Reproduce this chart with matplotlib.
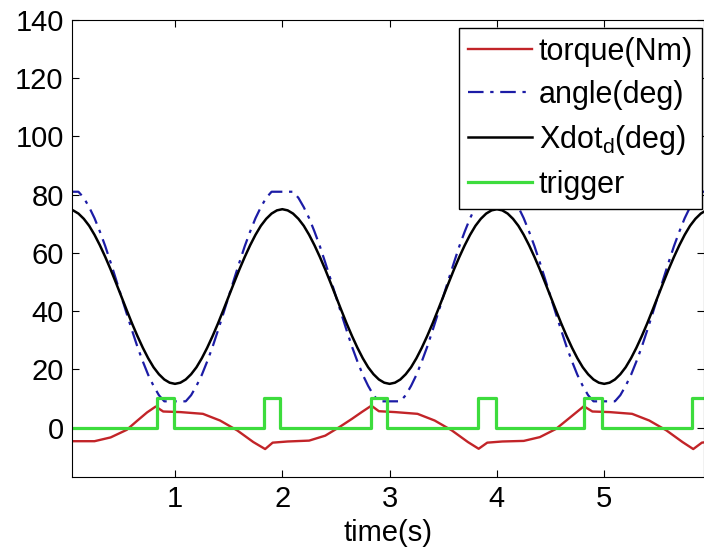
import numpy as np
import matplotlib.pyplot as plt

plt.rcParams['font.family'] = ['Liberation Sans', 'DejaVu Sans']
plt.rcParams['mathtext.default'] = 'regular'

# sample times for the two smooth curves (s), every 0.05 s
t = [round(0.05 * i, 2) for i in range(121)]

# Xdot_d (deg)
xdot = [75, 74.6, 73.5, 71.7, 69.3, 66.2, 62.6, 58.6, 54.3, 49.7, 45, 40.3, 35.7, 31.4, 27.4, 23.8, 20.7, 18.3, 16.5, 15.4,
        15, 15.4, 16.5, 18.3, 20.7, 23.8, 27.4, 31.4, 35.7, 40.3, 45, 49.7, 54.3, 58.6, 62.6, 66.2, 69.3, 71.7, 73.5, 74.6,
        75, 74.6, 73.5, 71.7, 69.3, 66.2, 62.6, 58.6, 54.3, 49.7, 45, 40.3, 35.7, 31.4, 27.4, 23.8, 20.7, 18.3, 16.5, 15.4,
        15, 15.4, 16.5, 18.3, 20.7, 23.8, 27.4, 31.4, 35.7, 40.3, 45, 49.7, 54.3, 58.6, 62.6, 66.2, 69.3, 71.7, 73.5, 74.6,
        75, 74.6, 73.5, 71.7, 69.3, 66.2, 62.6, 58.6, 54.3, 49.7, 45, 40.3, 35.7, 31.4, 27.4, 23.8, 20.7, 18.3, 16.5, 15.4,
        15, 15.4, 16.5, 18.3, 20.7, 23.8, 27.4, 31.4, 35.7, 40.3, 45, 49.7, 54.3, 58.6, 62.6, 66.2, 69.3, 71.7, 73.5, 74.6,
        75]

# angle (deg)
angle = [81, 81, 81, 78.9, 75.7, 71.9, 67.3, 62.3, 56.7, 50.9, 45, 39.1, 33.3, 27.7, 22.7, 18.1, 14.3, 11.1, 9, 9,
         9, 9, 9, 11.1, 14.3, 18.1, 22.7, 27.7, 33.3, 39.1, 45, 50.9, 56.7, 62.3, 67.3, 71.9, 75.7, 78.9, 81, 81,
         81, 81, 81, 78.9, 75.7, 71.9, 67.3, 62.3, 56.7, 50.9, 45, 39.1, 33.3, 27.7, 22.7, 18.1, 14.3, 11.1, 9, 9,
         9, 9, 9, 11.1, 14.3, 18.1, 22.7, 27.7, 33.3, 39.1, 45, 50.9, 56.7, 62.3, 67.3, 71.9, 75.7, 78.9, 81, 81,
         81, 81, 81, 78.9, 75.7, 71.9, 67.3, 62.3, 56.7, 50.9, 45, 39.1, 33.3, 27.7, 22.7, 18.1, 14.3, 11.1, 9, 9,
         9, 9, 9, 11.1, 14.3, 18.1, 22.7, 27.7, 33.3, 39.1, 45, 50.9, 56.7, 62.3, 67.3, 71.9, 75.7, 78.9, 81, 81,
         81]

# torque (Nm)
torque_t = [0.0, 0.25, 0.40, 0.55, 0.65, 0.74, 0.82, 0.89, 1.05, 1.26, 1.42, 1.58, 1.73, 1.84, 1.91, 2.05,
            2.25, 2.40, 2.53, 2.65, 2.74, 2.83, 2.90, 3.05, 3.26, 3.42, 3.58, 3.73, 3.83, 3.91, 4.05,
            4.25, 4.40, 4.55, 4.65, 4.74, 4.81, 4.89, 5.05, 5.26, 5.42, 5.58, 5.73, 5.83, 5.91, 6.0]
torque = [-4.7, -4.7, -3.4, -0.8, 2.4, 5.2, 7.2, 5.5, 5.3, 4.7, 2.4, -1.0, -5.0, -7.4, -5.2, -4.8,
          -4.5, -2.8, 0.1, 3.0, 5.3, 7.5, 5.6, 5.3, 4.7, 2.4, -1.0, -5.0, -7.3, -5.2, -4.8,
          -4.6, -3.3, -0.5, 2.5, 5.2, 7.3, 5.5, 5.3, 4.7, 2.4, -1.0, -5.0, -7.4, -5.2, -4.8]

# trigger pulses
trig_on = [0.83, 1.83, 2.83, 3.82, 4.81, 5.82]
trig_off = [0.99, 1.98, 2.98, 3.99, 4.98, 6.1]
trig_high = 10

tt, tv = [0.0], [0]
for a, b in zip(trig_on, trig_off):
    tt += [a, a, b, b]
    tv += [0, trig_high, trig_high, 0]

fig = plt.figure(figsize=(7.04, 5.55), dpi=100)
ax = fig.add_axes([72 / 704, 78 / 555, 632 / 704, 457 / 555])

ax.plot(torque_t, torque, color='#c22428', lw=1.7, label='torque(Nm)')
ax.plot(t, angle, color='#1c1ca6', lw=1.6, ls=(0, (7, 3, 1.5, 3)), label='angle(deg)')
ax.plot(t, xdot, color='black', lw=1.8, label='Xdot$_d$(deg)')
ax.plot(tt, tv, color='#3ddc3d', lw=2.3, label='trigger')

ax.set_xlim(0.04, 5.93)
ax.set_ylim(-17, 140)
ax.set_xticks([1, 2, 3, 4, 5])
ax.set_yticks(range(0, 141, 20))
ax.tick_params(direction='in', top=True, right=True, length=5, labelsize=21, pad=6)
ax.set_xlabel('time(s)', fontsize=21, labelpad=4)

leg = ax.legend(loc='upper right', bbox_to_anchor=(702 / 704, 1 - 28 / 555),
                bbox_transform=fig.transFigure, borderaxespad=0,
                fontsize=22, fancybox=False, framealpha=1, edgecolor='black',
                handlelength=2.1, handletextpad=0.22, labelspacing=0.42, borderpad=0.3)
leg.get_frame().set_linewidth(1.0)

fig.savefig('out.png', dpi=100)
